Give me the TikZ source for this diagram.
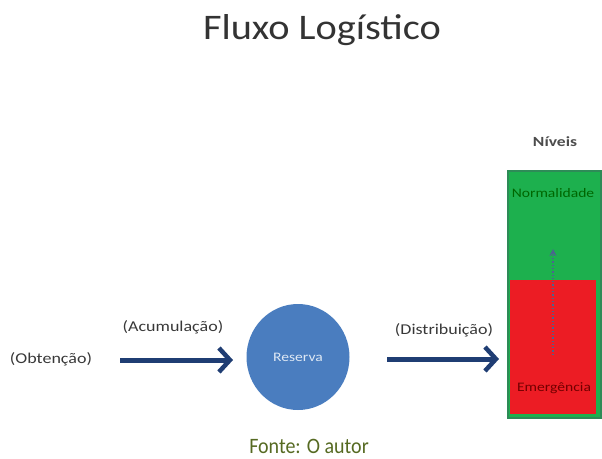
\documentclass[tikz,border=0pt]{standalone}
\usepackage{fontspec}
\setmainfont{Carlito}
\usetikzlibrary{arrows.meta,shapes.geometric}
\definecolor{arrblue}{HTML}{1F3D73}
\definecolor{circblue}{HTML}{4A7DBF}
\definecolor{lvgreen}{HTML}{1DB04E}
\definecolor{lvgreenb}{HTML}{2E8B57}
\definecolor{lvred}{HTML}{EC1C24}
\definecolor{fontecol}{HTML}{566A22}
\begin{document}
\begin{tikzpicture}[x=1pt,y=-1pt,
  lbl/.style={font=\fontsize{15}{17}\selectfont, text=black!78, xscale=1.2},
  lvl/.style={font=\fontsize{13}{15}\selectfont, xscale=1.2},
  bigarrow/.style={arrblue, line width=5pt, -{Straight Barb[length=11pt,width=24pt,line width=4.5pt]}}]
\useasboundingbox (0,0) rectangle (602,458);
\node[font=\fontsize{36}{40}\selectfont, text=black!80, xscale=1.12] (title) at (322,30) {Fluxo Logístico};
\node[font=\bfseries\fontsize{14}{16}\selectfont, text=black!70, xscale=1.25] (niveis) at (555,142) {Níveis};
\node[draw=lvgreenb, line width=2pt, fill=lvgreen, minimum width=93pt, minimum height=247pt, inner sep=0pt, anchor=north west] (green) at (507,170) {};
\node[fill=lvred, minimum width=86pt, minimum height=134pt, inner sep=0pt, anchor=north west] (red) at (510,280) {};
\node[lvl, text=black!60!green] (norm) at (553,193) {Normalidade};
\node[lvl, text=black!55!red] (emerg) at (554,388) {Emergência};
\coordinate (dotA) at (553,355);
\coordinate (dotB) at (553,249);
\draw[arrblue!80, line width=1.3pt, dotted, -{Stealth[length=7pt,width=7pt]}] (dotA) -- (dotB);
\node[lbl] (obt) at (51,359) {(Obtenção)};
\node[lbl] (acum) at (173,327) {(Acumulação)};
\node[ellipse, fill=circblue, minimum width=103pt, minimum height=106pt, inner sep=0pt] (res) at (298,357) {};
\node[font=\fontsize{13}{15}\selectfont, text=white!82!circblue, xscale=1.2] (restext) at (res.center) {Reserva};
\node[lbl] (dist) at (444,330) {(Distribuição)};
\coordinate (a1s) at (120,360);
\coordinate (a1e) at (233,360);
\coordinate (a2s) at (387,359);
\coordinate (a2e) at (499,359);
\draw[bigarrow] (a1s) -- (a1e);
\draw[bigarrow] (a2s) -- (a2e);
\node[font=\fontsize{20}{22}\selectfont, text=fontecol, yscale=1.1] (fonte) at (309,446) {Fonte: O autor};
\end{tikzpicture}
\end{document}
